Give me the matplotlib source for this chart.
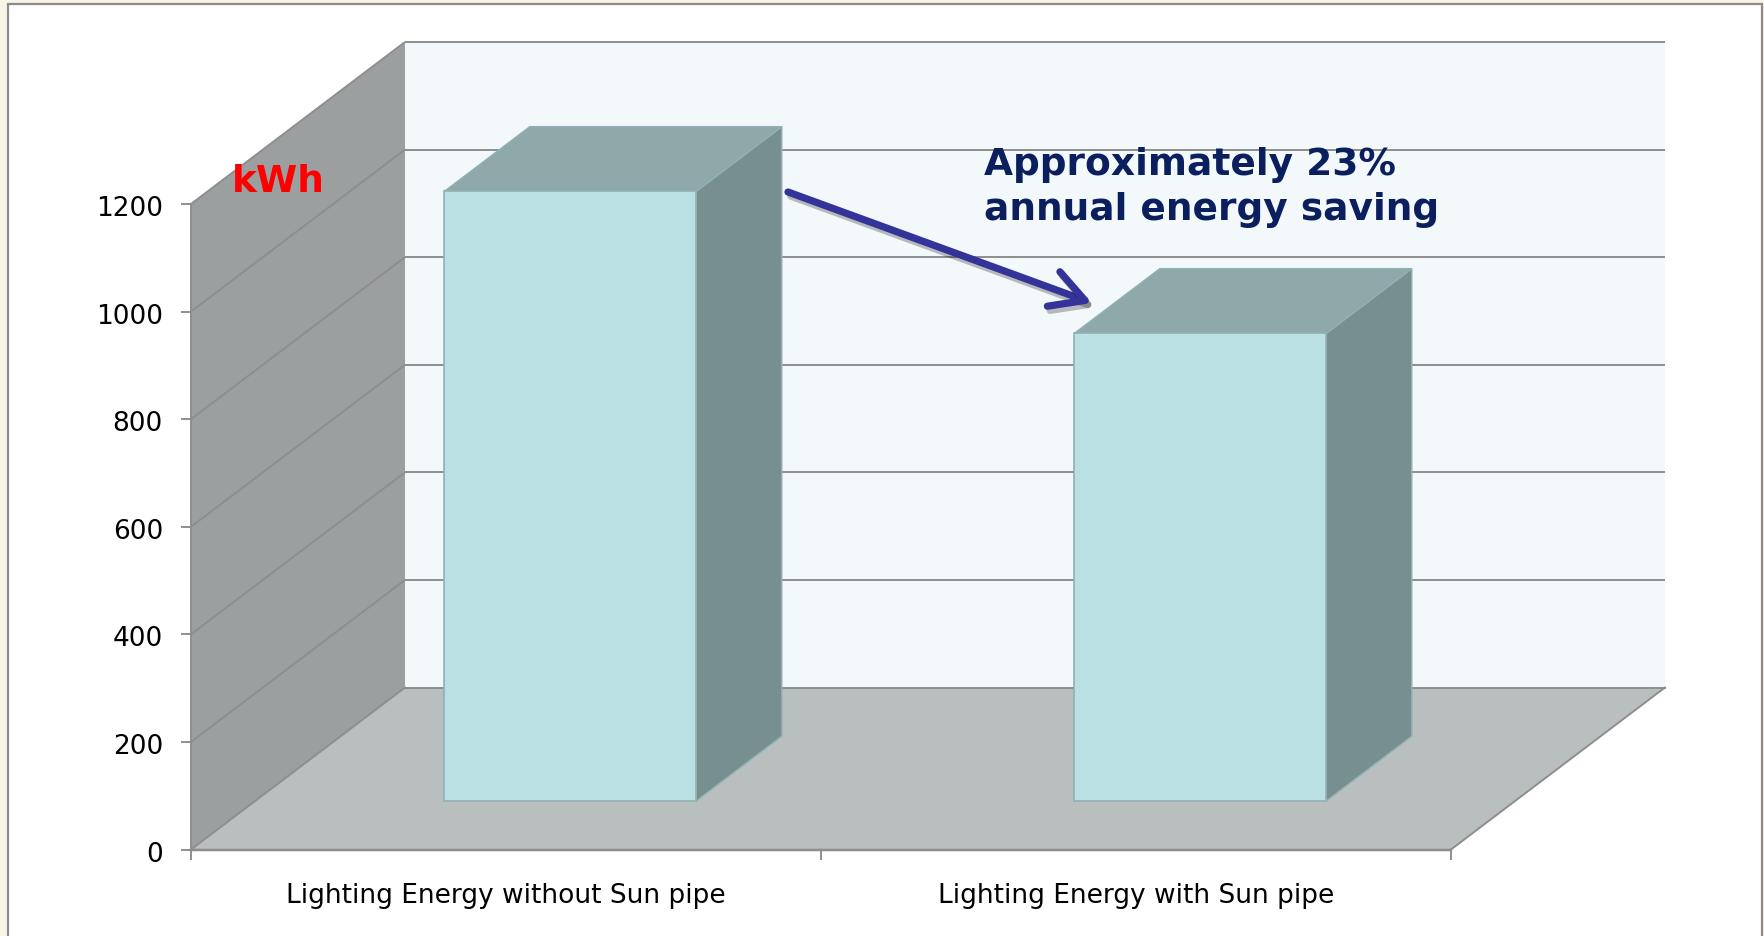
import matplotlib
matplotlib.use("Agg")
import matplotlib.pyplot as plt
import matplotlib.patheffects as pe
from matplotlib.patches import Polygon, Rectangle

# ---------------- data ----------------
categories = ["Lighting Energy without Sun pipe", "Lighting Energy with Sun pipe"]
values = [1133, 869]
y_ticks = [0, 200, 400, 600, 800, 1000, 1200]
y_max = 1200
unit_label = "kWh"
note_lines = ["Approximately 23%", "annual energy saving"]

# ---------------- geometry (pixel mapping) ----------------
W, H = 1764, 936
DPI = 100
X0_PX, XSCALE = 191.0, 630.0          # x=0 at px 191, 630 px per category
Y0_PX, YSCALE = 849.5, (849.5 - 204.0) / 1200.0  # px per kWh
DX = 214.0 / XSCALE                   # depth offset in x units
DY = 162.0 / YSCALE                   # depth offset in kWh units
BAR_W = 0.40
Z0, Z1 = 0.30, 0.70

def px_x(p):
    return p / XSCALE

def px_y(p):
    return p / YSCALE

fig = plt.figure(figsize=(W / DPI, H / DPI), dpi=DPI)
fig.patch.set_facecolor("#f8f5e4")

# white panel with grey frame (figure coordinates)
panel = Rectangle((8 / W, -0.05), (1762 - 8) / W, 1.05 - 4 / H, transform=fig.transFigure,
                  facecolor="white", edgecolor="#8c8c8c", linewidth=1.6, zorder=-10)
fig.add_artist(panel)

ax = fig.add_axes([0, 0, 1, 1], zorder=1)
ax.set_xlim(-X0_PX / XSCALE, (W - X0_PX) / XSCALE)
ax.set_ylim((Y0_PX - H) / YSCALE, Y0_PX / YSCALE)
ax.axis("off")

ncat = len(categories)
grid_c = "#8e8e8e"
glw = 1.4

# back wall
ax.add_patch(Polygon([(DX, DY), (ncat + DX, DY), (ncat + DX, y_max + DY), (DX, y_max + DY)],
                     closed=True, facecolor="#f3f8fb", edgecolor="none", zorder=1))
# left wall
ax.add_patch(Polygon([(0, 0), (0, y_max), (DX, y_max + DY), (DX, DY)],
                     closed=True, facecolor="#9c9fa0", edgecolor="none", zorder=1))
# floor
ax.add_patch(Polygon([(0, 0), (ncat, 0), (ncat + DX, DY), (DX, DY)],
                     closed=True, facecolor="#b9bebe", edgecolor="none", zorder=1))

# gridlines on walls
for v in y_ticks[1:]:
    ax.plot([0, DX], [v, v + DY], color=grid_c, lw=glw, zorder=2, solid_capstyle="butt")
    ax.plot([DX, ncat + DX], [v + DY, v + DY], color=grid_c, lw=glw, zorder=2,
            solid_capstyle="butt")
# floor edges
ax.plot([DX, ncat + DX], [DY, DY], color=grid_c, lw=glw, zorder=2)
ax.plot([0, DX], [0, DY], color=grid_c, lw=glw, zorder=2)
ax.plot([ncat, ncat + DX], [0, DY], color=grid_c, lw=glw, zorder=2)
ax.plot([0, ncat], [0, 0], color=grid_c, lw=glw + 0.4, zorder=2)
# vertical axis line
ax.plot([0, 0], [0, y_max], color=grid_c, lw=glw, zorder=2)

# ticks and tick labels
tick_len_x = px_x(9)
for v in y_ticks:
    ax.plot([-tick_len_x, 0], [v, v], color=grid_c, lw=glw, zorder=2)
    ax.text(-px_x(28), v - px_y(12), f"{v}", ha="right", va="baseline",
            fontsize=19, color="black", family="DejaVu Sans", zorder=5)
for i in range(ncat + 1):
    ax.plot([i, i], [0, -px_y(9)], color=grid_c, lw=glw, zorder=2)
for i, cat in enumerate(categories):
    ax.text(i + 0.5, -px_y(903 - Y0_PX), cat, ha="center", va="baseline",
            fontsize=19, color="black", family="DejaVu Sans", zorder=5)

# bars
front_c, top_c, side_c, edge_c = "#bbe0e3", "#8fa9ab", "#788f8f", "#8fb1b3"
for i, v in enumerate(values):
    c = i + 0.5
    L, R = c - BAR_W / 2, c + BAR_W / 2
    side = [(R + Z0 * DX, Z0 * DY), (R + Z1 * DX, Z1 * DY),
            (R + Z1 * DX, v + Z1 * DY), (R + Z0 * DX, v + Z0 * DY)]
    top = [(L + Z0 * DX, v + Z0 * DY), (R + Z0 * DX, v + Z0 * DY),
           (R + Z1 * DX, v + Z1 * DY), (L + Z1 * DX, v + Z1 * DY)]
    front = [(L + Z0 * DX, Z0 * DY), (R + Z0 * DX, Z0 * DY),
             (R + Z0 * DX, v + Z0 * DY), (L + Z0 * DX, v + Z0 * DY)]
    ax.add_patch(Polygon(side, closed=True, facecolor=side_c, edgecolor=edge_c, lw=1, zorder=3))
    ax.add_patch(Polygon(top, closed=True, facecolor=top_c, edgecolor=edge_c, lw=1, zorder=3))
    ax.add_patch(Polygon(front, closed=True, facecolor=front_c, edgecolor=edge_c, lw=1.2, zorder=4))

# unit label
ax.text(px_x(232 - X0_PX), px_y(Y0_PX - 192), unit_label, color="#ff0000",
        fontsize=27, fontweight="bold", family="DejaVu Sans", ha="left", va="baseline", zorder=6)

# annotation text
navy = "#0b1f5f"
ax.text(px_x(984 - X0_PX), px_y(Y0_PX - 175), note_lines[0], color=navy,
        fontsize=27, fontweight="bold", family="DejaVu Sans", ha="left", va="baseline", zorder=6)
ax.text(px_x(984 - X0_PX), px_y(Y0_PX - 220), note_lines[1], color=navy,
        fontsize=27, fontweight="bold", family="DejaVu Sans", ha="left", va="baseline", zorder=6)

# arrow from bar 1 towards bar 2
start = (px_x(788 - X0_PX), px_y(Y0_PX - 192))
end = (px_x(1092 - X0_PX), px_y(Y0_PX - 303))
ax.annotate("", xy=end, xytext=start,
            arrowprops=dict(arrowstyle="->,head_length=0.4,head_width=0.22",
                            mutation_scale=60, color="#333399", lw=5.2,
                            shrinkA=0, shrinkB=0, capstyle="round", joinstyle="round",
                            path_effects=[pe.SimpleLineShadow(offset=(2, -3), shadow_color="k",
                                                              alpha=0.25),
                                          pe.Normal()]),
            zorder=7)

fig.savefig("out.png", dpi=DPI, facecolor=fig.get_facecolor())
